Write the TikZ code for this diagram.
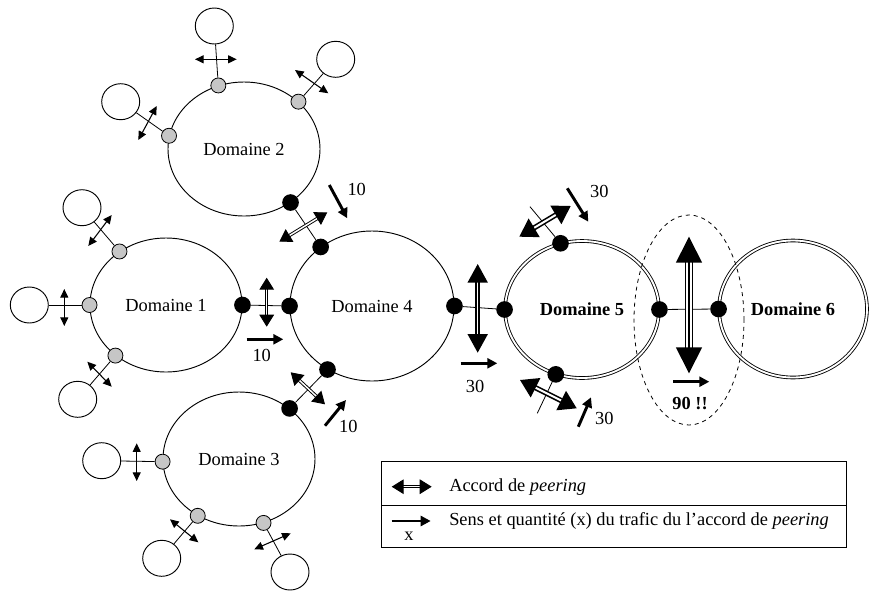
\documentclass[tikz,border=0pt]{standalone}
\usepackage{fontspec}
\setmainfont{Liberation Serif}
\usetikzlibrary{arrows.meta,shapes.geometric}

\begin{document}
\begin{tikzpicture}[
  x=0.75pt, y=-0.75pt,
  every node/.style={font=\fontsize{13.8}{16}\selectfont},
  dom/.style={ellipse, draw, line width=0.7pt, inner sep=0pt, minimum width=114pt, minimum height=100.5pt},
  dom2/.style={dom, double, line width=0.65pt, double distance=1.4pt},
  gport/.style={circle, draw, line width=0.6pt, fill=gray!45, inner sep=0pt, minimum size=11.25pt},
  kport/.style={circle, fill=black, inner sep=0pt, minimum size=12.5pt},
  sat/.style={ellipse, draw, line width=0.7pt, inner sep=0pt, minimum width=28.5pt, minimum height=27pt},
  link/.style={line width=0.6pt},
  satarrow/.style={line width=0.8pt, {Triangle[length=6.5pt,width=6pt]}-{Triangle[length=6.5pt,width=6pt]}},
  peer/.style={double, line width=0.7pt, double distance=1.1pt, {Triangle[length=9pt,width=11pt]}-{Triangle[length=9pt,width=11pt]}},
  peerbig/.style={double, line width=1.4pt, double distance=0.8pt, {Triangle[length=14pt,width=15pt]}-{Triangle[length=14pt,width=15pt]}},
  peertilt/.style={double, line width=1.2pt, double distance=1.5pt, {Triangle[length=13pt,width=16pt]}-{Triangle[length=13pt,width=16pt]}},
  peerhuge/.style={double, line width=1.1pt, double distance=4.4pt, {Triangle[length=19.5pt,width=19.5pt]}-{Triangle[length=19.5pt,width=19.5pt]}},
  traffic/.style={line width=2.2pt, -{Triangle[length=7.5pt,width=7.5pt]}},
  qty/.style={inner sep=1pt}
]

\node[dom] (d1) at (166,305) {Domaine 1};
\node[dom] (d2) at (244,149) {Domaine 2};
\node[dom] (d3) at (239,459) {Domaine 3};
\node[dom, minimum width=123pt, minimum height=112.5pt] (d4) at (372,306) {Domaine 4};
\node[dom2, minimum width=115.5pt, minimum height=102.75pt] (d5) at (582,309.5) {\textbf{Domaine 5}};
\node[dom2, minimum width=111pt, minimum height=102.75pt] (d6) at (793,309) {\textbf{Domaine 6}};
\node[ellipse, draw, dashed, line width=0.6pt, minimum width=82.5pt, minimum height=157.5pt] (hot) at (689,320) {};

% ports
\node[gport] (g2n) at (d2.112.6) {};
\node[gport] (g2e) at (d2.41.9) {};
\node[gport] (g2w) at (d2.170.7) {};
\node[kport] (k2) at (d2.311.6) {};
\node[gport] (g1n) at (d1.131.1) {};
\node[gport] (g1w) at (d1.180) {};
\node[gport] (g1s) at (d1.225.4) {};
\node[kport] (k1) at (d1.0) {};
\node[kport] (k4w) at (d4.180) {};
\node[kport] (k4n) at (d4.131.1) {};
\node[kport] (k4s) at (d4.235) {};
\node[kport] (k4e) at (d4.0) {};
\node[kport] (k3) at (d3.45.8) {};
\node[gport] (g3w) at (d3.182) {};
\node[gport] (g3s) at (d3.234.7) {};
\node[gport] (g3e) at (d3.291.2) {};
\node[kport] (k5w) at (d5.180) {};
\node[kport] (k5n) at (d5.108.8) {};
\node[kport] (k5s) at (d5.248.7) {};
\node[kport] (k5e) at (d5.0) {};
\node[kport] (k6) at (d6.180) {};

% customers
\node[sat] (s2n) at (214.3,26) {};
\node[sat] (s2e) at (335.7,59.3) {};
\node[sat] (s2w) at (120.7,101.7) {};
\node[sat] (s1n) at (82,207.7) {};
\node[sat] (s1w) at (29.3,305) {};
\node[sat] (s1s) at (77.7,399.3) {};
\node[sat] (s3w) at (101.7,460.7) {};
\node[sat] (s3s) at (161.7,558.3) {};
\node[sat] (s3e) at (290,572) {};
\coordinate (t5n) at (530,206.7);
\coordinate (t5s) at (537.3,413.3);

\draw[link] (g2n) -- (s2n);
\draw[link] (g2e) -- (s2e);
\draw[link] (g2w) -- (s2w);
\draw[link] (g1n) -- (s1n);
\draw[link] (g1w) -- (s1w);
\draw[link] (g1s) -- (s1s);
\draw[link] (g3w) -- (s3w);
\draw[link] (g3s) -- (s3s);
\draw[link] (g3e) -- (s3e);
\draw[link] (k1) -- (k4w);
\draw[link] (k2) -- (k4n);
\draw[link] (k3) -- (k4s);
\draw[link] (k4e) -- (k5w);
\draw[link] (k5e) -- (k6);
\draw[link] (k5n) -- (t5n);
\draw[link] (k5s) -- (t5s);

\draw[satarrow] (195,59.3) -- (236.7,59.3);
\draw[satarrow] (295,70) -- (328.3,93.3);
\draw[satarrow] (138.3,140) -- (156.7,106);
\draw[satarrow] (88.3,246) -- (111.7,215);
\draw[satarrow] (64.3,289) -- (64.3,326);
\draw[satarrow] (87.3,361.7) -- (111.7,386.7);
\draw[satarrow] (136.7,443.3) -- (136.7,481);
\draw[satarrow] (170,519.3) -- (198.3,542.3);
\draw[satarrow] (254.3,549.3) -- (290.7,533.3);

\draw[peer] (266.7,277.7) -- (266.7,326.7);
\draw[peer] (279.3,241.7) -- (327.3,212.3);
\draw[peer] (290.7,372.3) -- (325,404.3);
\draw[peerbig] (477.7,264) -- (477.7,352.7);
\draw[peertilt] (519.3,236.7) -- (570.7,206);
\draw[peertilt] (520,380) -- (576.7,408.3);
\draw[peerhuge] (689,236.7) -- (689,373.3);
\draw[line width=1.1pt] (689,262) -- (689,348);

\draw[traffic] (246.7,339.3) -- (283.3,339.3);
\draw[traffic] (329.3,185) -- (347.3,218.3);
\draw[traffic] (325,425.7) -- (346,400);
\draw[traffic] (460.7,363.3) -- (497.3,363.3);
\draw[traffic] (567.3,188.3) -- (588.3,221.7);
\draw[traffic] (578.3,426.7) -- (591,397.3);
\draw[traffic] (673.3,381.7) -- (709.3,381.7);

\node[qty] at (261.7,355.7) {10};
\node[qty] at (356.7,189.3) {10};
\node[qty] at (348.3,426.7) {10};
\node[qty] at (475,386.7) {30};
\node[qty] at (599.3,191.7) {30};
\node[qty] at (604.3,418.3) {30};
\node[qty] at (690,403.3) {\textbf{90 !!}};

% legend
\node[draw, line width=0.6pt, inner sep=0pt, minimum width=348.2pt, minimum height=64.5pt] (leg) at (613.9,504) {};
\draw[link] ([yshift=-0.75pt]leg.west) -- ([yshift=-0.75pt]leg.east);
\draw[peer] (391.7,486.7) -- (431.7,486.7);
\node[anchor=west, inner sep=0pt] (legpeer) at (449,486.7) {Accord de \textit{peering}};
\draw[traffic] (391.7,521) -- (430.7,521);
\node[qty] (legx) at (409,536.7) {x};
\node[anchor=west, inner sep=0pt] (legtraf) at (449,521) {Sens et quantité (x) du trafic du l’accord de \textit{peering}};

\useasboundingbox (0,0) rectangle (869,590);
\end{tikzpicture}
\end{document}
